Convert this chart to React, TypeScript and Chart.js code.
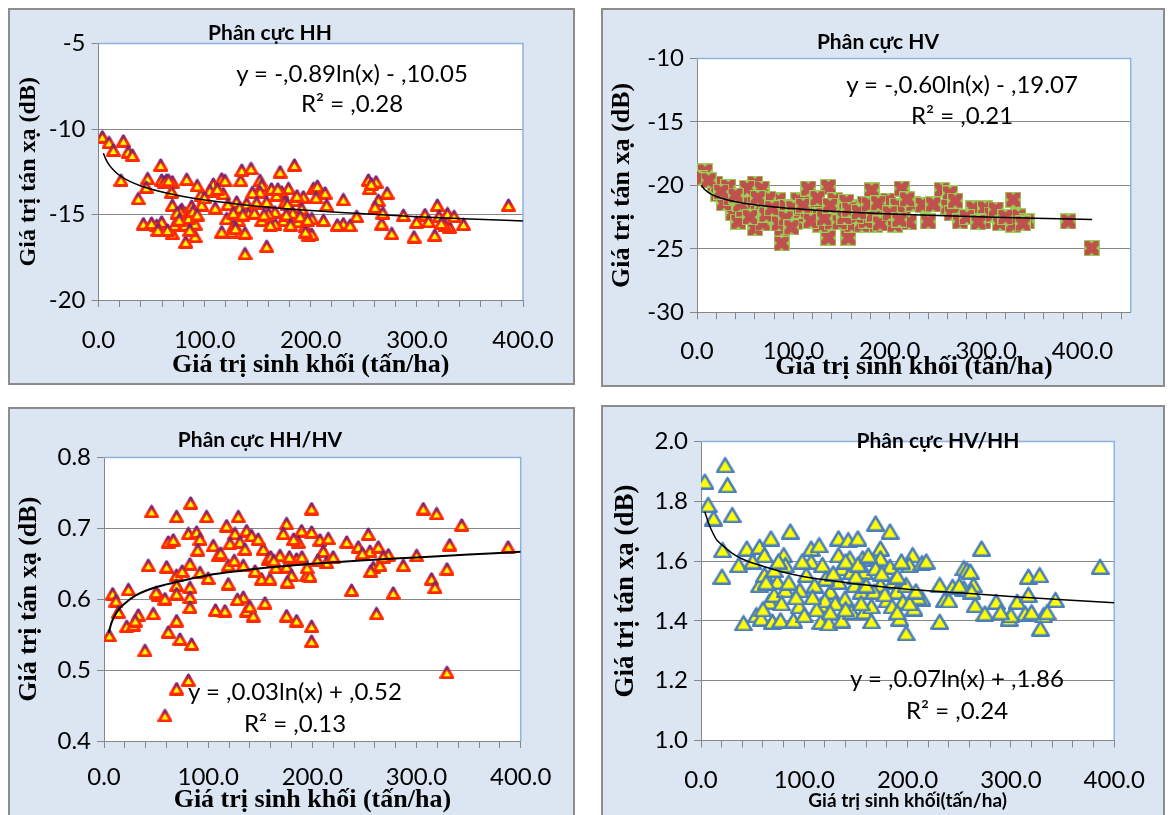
import React, { useEffect, useRef } from 'react';
import { Chart, registerables } from 'chart.js';

Chart.register(...registerables);

// ---------- DATA (biomass tấn/ha , backscatter) ----------
const hhPoints: [number, number][] = [
  [3.6, -10.45], [9.9, -10.78], [23.4, -10.69], [14, -11.23], [28, -11.33], [31.9, -11.52], [58.6, -12.1], [46.3, -12.89],
  [21.2, -12.98], [37.5, -14.06], [59.5, -12.98], [64.2, -12.98], [69.6, -13.08], [83.1, -12.93], [68.9, -13.67], [69.6, -14.45],
  [42.3, -15.53], [59.5, -15.43], [54.8, -15.63], [69.6, -16.1], [82.2, -16.6], [91, -16.27], [72, -15.6], [81.5, -15.6],
  [91, -15.53], [81.5, -14.9], [78.4, -14.69], [87.8, -14.5], [97.2, -14.43], [96.6, -13.84], [108.2, -13.22], [105, -13.6],
  [116.1, -12.91], [119.2, -13.0], [117.6, -13.77], [134, -13.0], [135, -12.4], [143.7, -12.3], [130.2, -14.26], [139.6, -14.35],
  [120.8, -15.23], [131.8, -15.33], [141.3, -14.94], [125.5, -16.0], [116.1, -16.0], [138.1, -16.07], [138.1, -17.28], [158.5, -16.85],
  [152.2, -13.0], [153.8, -13.28], [152.2, -13.67], [158.5, -14.26], [171.1, -12.5], [184.6, -12.1], [179, -13.47], [172.6, -13.67],
  [167.9, -13.86], [175.8, -14.26], [193, -13.96], [185, -14.16], [166.3, -14.84], [174.2, -15.33], [166.3, -15.53], [185, -15.14],
  [191.5, -14.65], [197.8, -16.2], [194.6, -15.7], [202.5, -13.47], [153.8, -15.33], [160, -14.94],
  [206.3, -13.34], [213.5, -13.73], [215, -14.45], [201, -15.23], [212, -15.33], [201, -16.15], [230.7, -14.12], [243.3, -15.1],
  [230.7, -15.53], [237, -15.63], [254.3, -12.98], [261.5, -13.08], [255.2, -13.47], [272, -13.73], [263.7, -14.16], [260.6, -14.55],
  [266.9, -15.53], [276.3, -16.1], [287.3, -15.04], [299.8, -15.43], [297.3, -16.3], [307.6, -15.0], [319.3, -14.45], [320.8, -15.1],
  [316.9, -16.2], [328.8, -14.94], [330.7, -15.73], [326.6, -15.63], [343.9, -15.57], [386.3, -14.45],
  [77, -14.8], [85, -15.2], [112, -13.5], [128, -15.6], [133, -14.6], [147, -14.9], [162, -15.6], [178, -14.4], [188, -15.4], [195, -16.0], [183, -14.9],
  [62, -13.1], [66, -13.0], [74, -14.9], [76, -15.3], [86, -15.9], [89, -14.8], [93, -15.0], [100, -14.0], [110, -14.6], [122, -14.4],
  [127, -14.9], [129, -15.8], [136, -15.0], [145, -13.7], [149, -14.3], [156, -15.0], [163, -13.5], [169, -13.5], [177, -15.0], [181, -15.6],
  [187, -13.9], [190, -15.1], [197, -15.3], [205, -14.0], [225, -15.6], [257, -13.2], [268, -14.9], [311, -15.4], [323, -15.5], [335, -15.1],
  [50, -15.5], [56, -15.9], [65, -15.9], [93, -13.3], [45, -13.4],
];
const hhTrend: [number, number][] = [
  [4.6, -11.41], [7, -11.78], [10, -12.1], [15, -12.46], [20, -12.72], [30, -13.08], [40, -13.33], [60, -13.69], [80, -13.95],
  [100, -14.15], [130, -14.38], [160, -14.57], [200, -14.77], [250, -14.96], [300, -15.13], [350, -15.26], [400, -15.38],
];

const hvPoints: [number, number][] = [
  [8.3, -18.9], [3.1, -19.44], [18.7, -19.86], [32.5, -20.12], [22.1, -20.65], [37.7, -22.18], [60.2, -19.86], [67, -20.25],
  [53.3, -20.9], [58.4, -21.45], [67.1, -21.7], [60.2, -23.37], [77.5, -22.97], [81, -22.58], [87.8, -24.55], [84.4, -21.17],
  [91.3, -21.7], [105, -21.17], [115.5, -20.25], [136.3, -20.12], [119, -21.45], [129.3, -21.96], [122.4, -22.35], [136.3, -24.13],
  [143.2, -21.17], [157, -24.13], [160.5, -23.1], [164, -21.7], [174.3, -21.45], [181.2, -20.4], [184.7, -23.1], [191.6, -21.96],
  [198.5, -21.2], [212.3, -20.25], [214, -22.36], [224.5, -21.45], [150, -21.96], [101.7, -22.86], [74, -21.06], [42.9, -22.86],
  [112, -22.3], [170.9, -23.1], [205.4, -23.1],
  [234.2, -21.53], [240, -22.84], [253.9, -20.37], [262.5, -20.63], [260.8, -21.68], [264.3, -22.2], [272.9, -22.84], [286.8, -21.82],
  [298.9, -21.82], [297.1, -22.84], [305.7, -22.3], [314.4, -22.97], [328.2, -21.13], [328.2, -23.1], [333.4, -22.45], [342, -22.84],
  [385.2, -22.84], [409.4, -24.94],
  [28, -21.4], [48, -21.9], [95, -22.9], [128, -23.1], [145, -22.6], [175, -22.8], [195, -22.6], [208, -21.6], [52, -20.2],
  [68, -23.0], [88, -23.4], [107, -22.0], [155, -21.3], [183, -22.3], [220, -22.9], [100, -21.8], [140, -22.9], [165, -22.4],
  [35, -21.0], [45, -21.5], [55, -22.5], [63, -21.0], [72, -22.3], [78, -21.8], [85, -23.0], [92, -22.6], [98, -23.3], [110, -21.6],
  [118, -22.8], [125, -21.0], [132, -22.6], [138, -21.6], [148, -22.9], [153, -22.5], [158, -21.9], [168, -22.1], [178, -21.5], [188, -21.4],
  [190, -23.0], [200, -22.2], [210, -22.7], [218, -21.1], [245, -21.5], [268, -21.2], [280, -22.5], [292, -22.9], [310, -21.9], [320, -22.5],
  [338, -23.0], [12, -19.6], [25, -20.5], [40, -20.8],
];
const hvTrend: [number, number][] = [
  [4.6, -19.99], [7, -20.24], [10, -20.45], [15, -20.7], [20, -20.87], [30, -21.11], [40, -21.28], [60, -21.53], [80, -21.7],
  [100, -21.83], [130, -21.99], [160, -22.12], [200, -22.25], [250, -22.38], [300, -22.49], [350, -22.58], [410, -22.68],
];

const hhHvPoints: [number, number][] = [
  [5.1, 0.549], [8.3, 0.608], [11.5, 0.598], [13.8, 0.582], [23.4, 0.614], [21.8, 0.562], [28.1, 0.564], [32.9, 0.578],
  [39.3, 0.528], [42.5, 0.648], [47.3, 0.58], [45.7, 0.724], [60.1, 0.646], [52.1, 0.606], [58.5, 0.601], [61.7, 0.554],
  [69.7, 0.57], [72.9, 0.544], [84.1, 0.537], [69.7, 0.717], [83.2, 0.736], [61.7, 0.681], [66.5, 0.684], [69.7, 0.634],
  [69.7, 0.62], [69.7, 0.608], [82.5, 0.65], [82.5, 0.617], [82.5, 0.603], [82.5, 0.589], [81, 0.693], [88.9, 0.695],
  [92.1, 0.685], [98.5, 0.717], [92.1, 0.638], [104.9, 0.676], [109.7, 0.662], [119.3, 0.622], [116.1, 0.584], [117.7, 0.704],
  [128.9, 0.717], [125.7, 0.693], [136.9, 0.697], [120.9, 0.679], [130.5, 0.681], [135.3, 0.671], [119.3, 0.648], [133.7, 0.648],
  [141.7, 0.69], [133.7, 0.603], [136.9, 0.584], [143.3, 0.577], [154.5, 0.595], [152.9, 0.671], [157.7, 0.657], [151.3, 0.629],
  [159.3, 0.629], [168.9, 0.662], [175.3, 0.707], [172.1, 0.693], [175.3, 0.646], [180.1, 0.634], [184.9, 0.657], [189.7, 0.697],
  [186.5, 0.681], [194.5, 0.634], [175.3, 0.577], [184.9, 0.57], [199.3, 0.695], [199.3, 0.728], [199.3, 0.562], [199.3, 0.541],
  [81, 0.486], [69.7, 0.474], [58.5, 0.436],
  [207.3, 0.684], [215.3, 0.686], [210.5, 0.668], [213.7, 0.652], [197.7, 0.633], [233, 0.681], [244.1, 0.674], [253.7, 0.692],
  [255.3, 0.668], [263.3, 0.674], [272.9, 0.663], [258.5, 0.645], [264.9, 0.648], [287.3, 0.648], [300.1, 0.662], [306.5, 0.728],
  [319.3, 0.721], [343.4, 0.705], [331.8, 0.677], [329.2, 0.643], [314.4, 0.629], [317.7, 0.617], [237.7, 0.613], [277.6, 0.609],
  [261.6, 0.58], [329.2, 0.497], [387.9, 0.674],
  [30, 0.57], [50, 0.61], [75, 0.64], [90, 0.67], [100, 0.63], [112, 0.665], [125, 0.655], [145, 0.64], [148, 0.685], [160, 0.66],
  [165, 0.645], [178, 0.66], [182, 0.685], [190, 0.66], [195, 0.645], [205, 0.655], [220, 0.66], [248, 0.665], [268, 0.66], [256, 0.64],
  [107, 0.585], [128, 0.6], [140, 0.59], [163, 0.655], [176, 0.625],
];
const hhHvTrend: [number, number][] = [
  [4.6, 0.553], [7, 0.566], [10, 0.576], [15, 0.587], [20, 0.594], [30, 0.605], [40, 0.612], [60, 0.621], [80, 0.628],
  [100, 0.634], [130, 0.64], [160, 0.645], [200, 0.65], [250, 0.655], [300, 0.659], [350, 0.663], [400, 0.667],
];

const hvHhPoints: [number, number][] = [
  [3.7, 1.867], [23.4, 1.922], [25.6, 1.855], [6.9, 1.789], [12.2, 1.744], [30.2, 1.755], [20.9, 1.638], [20.3, 1.549],
  [41.2, 1.393], [44.3, 1.643], [36.5, 1.588], [56.7, 1.649], [67.7, 1.677], [86.4, 1.7], [61.4, 1.621], [53.6, 1.42],
  [58.3, 1.409], [69.2, 1.398], [77, 1.403], [89.5, 1.403], [66.1, 1.465], [70.8, 1.488], [56.7, 1.521], [61.4, 1.555],
  [73.9, 1.532], [81.7, 1.504], [95.7, 1.504], [80.1, 1.621], [81.7, 1.588], [70.8, 1.572], [106.6, 1.643], [114.4, 1.654],
  [106.6, 1.599], [117.5, 1.588], [116, 1.398], [123.8, 1.393], [136.3, 1.403], [116, 1.454], [125.3, 1.499], [133.1, 1.532],
  [133.1, 1.677], [142.5, 1.671], [151.8, 1.677], [133.1, 1.621], [144, 1.61], [156.5, 1.61], [158.1, 1.565], [139.4, 1.476],
  [148.7, 1.521], [155, 1.499], [145.6, 1.432], [158.1, 1.432], [169, 1.727], [183, 1.7], [173.7, 1.643], [173.7, 1.61],
  [169, 1.577], [183, 1.582], [173.7, 1.521], [167.4, 1.499], [186.1, 1.532], [189.3, 1.499], [195.5, 1.465], [192.4, 1.409],
  [198.6, 1.36], [204.9, 1.621], [201.7, 1.588], [198.6, 1.521], [136.3, 1.577], [145.6, 1.565], [102, 1.555], [120.7, 1.543],
  [213.9, 1.594], [271.6, 1.643], [254.4, 1.577], [257.6, 1.571], [260.7, 1.566], [263.8, 1.521], [254.4, 1.51], [231.1, 1.521],
  [243.6, 1.515], [235.7, 1.471], [231.1, 1.398], [213.9, 1.476], [206.1, 1.443], [265.4, 1.454], [274.8, 1.426], [285.7, 1.465],
  [298.2, 1.409], [306, 1.465], [313.8, 1.426], [316.9, 1.549], [327.8, 1.554], [316.9, 1.488], [331.6, 1.42], [328.5, 1.376],
  [343.1, 1.471], [386.3, 1.582],
  [300, 1.42], [165, 1.45], [180, 1.47], [120, 1.47], [150, 1.55], [95, 1.45], [210, 1.48],
  [50, 1.6], [63, 1.53], [75, 1.6], [85, 1.53], [92, 1.48], [98, 1.6], [110, 1.52], [112, 1.44], [128, 1.56], [130, 1.46],
  [140, 1.6], [152, 1.59], [160, 1.52], [162, 1.62], [175, 1.56], [178, 1.49], [185, 1.45], [190, 1.55], [194, 1.6], [202, 1.46],
  [208, 1.5], [218, 1.6], [240, 1.47], [250, 1.52], [262, 1.5], [290, 1.43], [320, 1.43], [335, 1.43], [60, 1.44], [78, 1.46],
  [100, 1.42], [108, 1.48], [125, 1.43], [140, 1.44], [155, 1.46], [165, 1.4], [190, 1.43],
];
const hvHhTrend: [number, number][] = [
  [3.7, 1.765], [7, 1.73], [10, 1.705], [15, 1.672], [20, 1.655], [30, 1.627], [40, 1.607], [60, 1.583], [80, 1.563],
  [100, 1.548], [130, 1.533], [160, 1.52], [200, 1.506], [250, 1.494], [300, 1.482], [350, 1.471], [400, 1.461],
];

const chartTitles = ['Phân cực HH', 'Phân cực HV', 'Phân cực HH/HV', 'Phân cực HV/HH'];
const equationLines = [
  ['y = -,0.89ln(x) - ,10.05', 'R² = ,0.28'],
  ['y = -,0.60ln(x) - ,19.07', 'R² = ,0.21'],
  ['y = ,0.03ln(x) + ,0.52', 'R² = ,0.13'],
  ['y = ,0.07ln(x) + ,1.86', 'R² = ,0.24'],
];
const yAxisTitle = 'Giá trị tán xạ (dB)';
const xAxisTitle = 'Giá trị sinh khối (tấn/ha)';
const xAxisTitleCompact = 'Giá trị sinh khối(tấn/ha)';
const xLabelEvery = 100;
const xMinorStep = 20;

// ---------- LAYOUT / STYLE ----------
type Panel = {
  box: number[]; area: number[]; xMax: number; yMin: number; yMax: number; yStep: number; yDigits: number;
  points: [number, number][]; trend: [number, number][]; marker: string; trendWidth: number;
  title: string; titlePos: number[]; eq: string[]; eqPos: number[];
  xTitle: string; xTitleFont: any; xTitleY: number; yTitleSize: number; yTitleX: number; xLabelY: number;
};

const SERIF = "'Liberation Serif', 'Times New Roman', serif";
const SANS = "Lato, 'Liberation Sans', sans-serif";

const panels: Panel[] = [
  {
    box: [8, 8, 567, 377], area: [98.5, 43.5, 523, 300], xMax: 400, yMin: -20, yMax: -5, yStep: 5, yDigits: 0,
    points: hhPoints, trend: hhTrend, marker: 'red', trendWidth: 1.5,
    title: chartTitles[0], titlePos: [268, 29], eq: equationLines[0], eqPos: [350, 71, 101],
    xTitle: xAxisTitle, xTitleFont: { family: SERIF, weight: 'bold', size: 26 }, xTitleY: 365, yTitleSize: 24, yTitleX: 29, xLabelY: 340,
  },
  {
    box: [601, 8, 564, 379], area: [697, 58.5, 1130.7, 312.3], xMax: 450, yMin: -30, yMax: -10, yStep: 5, yDigits: 0,
    points: hvPoints, trend: hvTrend, marker: 'cross', trendWidth: 1.5,
    title: chartTitles[1], titlePos: [876, 38], eq: equationLines[1], eqPos: [960, 82, 113],
    xTitle: xAxisTitle, xTitleFont: { family: SERIF, weight: 'bold', size: 26 }, xTitleY: 367, yTitleSize: 26, yTitleX: 622, xLabelY: 351,
  },
  {
    box: [8, 407, 567, 412], area: [104, 457.5, 520.7, 741], xMax: 400, yMin: 0.4, yMax: 0.8, yStep: 0.1, yDigits: 1,
    points: hhHvPoints, trend: hhHvTrend, marker: 'red', trendWidth: 2,
    title: chartTitles[2], titlePos: [258, 436], eq: equationLines[2], eqPos: [293, 689, 721],
    xTitle: xAxisTitle, xTitleFont: { family: SERIF, weight: 'bold', size: 26 }, xTitleY: 800, yTitleSize: 26, yTitleX: 29, xLabelY: 777,
  },
  {
    box: [601, 405, 564, 414], area: [701, 441.5, 1128.7, 740.5], xMax: 400, yMin: 1.0, yMax: 2.0, yStep: 0.2, yDigits: 1,
    points: hvHhPoints, trend: hvHhTrend, marker: 'blue', trendWidth: 1.5,
    title: chartTitles[3], titlePos: [936, 437], eq: equationLines[3], eqPos: [955, 676, 708],
    xTitle: xAxisTitleCompact, xTitleFont: { family: SANS, weight: 'bold', size: 19 }, xTitleY: 801, yTitleSize: 27, yTitleX: 626, xLabelY: 780,
  },
];

const TICK_FONT = { family: SANS, size: 24 };
const AXIS_GRAY = '#878787';

function triangleMarker(w: number, h: number, lw: number, fill: string, topCol: string, botCol: string) {
  const c = document.createElement('canvas');
  c.width = w; c.height = h;
  const g = c.getContext('2d')!;
  const m = lw / 2;
  g.beginPath();
  g.moveTo(w / 2, m + 0.5);
  g.lineTo(w - m, h - m);
  g.lineTo(m, h - m);
  g.closePath();
  g.fillStyle = fill;
  g.fill();
  const grad = g.createLinearGradient(0, 0, 0, h);
  grad.addColorStop(0, topCol);
  grad.addColorStop(0.6, botCol);
  grad.addColorStop(1, botCol);
  g.strokeStyle = grad;
  g.lineWidth = lw;
  g.lineJoin = 'round';
  g.stroke();
  return c;
}

function crossMarker() {
  const s = 16;
  const c = document.createElement('canvas');
  c.width = s; c.height = s;
  const g = c.getContext('2d')!;
  g.fillStyle = '#98D155';
  g.fillRect(0, 0, s, s);
  g.save();
  g.beginPath();
  g.rect(1, 1, s - 2, s - 2);
  g.clip();
  g.strokeStyle = '#C0504D';
  g.lineWidth = 6.5;
  g.lineCap = 'square';
  g.beginPath();
  g.moveTo(3, 3); g.lineTo(s - 3, s - 3);
  g.moveTo(s - 3, 3); g.lineTo(3, s - 3);
  g.stroke();
  g.restore();
  return c;
}

function makeMarker(kind: string) {
  if (kind === 'cross') return crossMarker();
  if (kind === 'blue') return triangleMarker(19, 17, 2.6, '#FFFF00', '#4A7EBB', '#4A7EBB');
  return triangleMarker(15, 14, 3, '#FFFF00', '#4B1E9E', '#FF2A00');
}

const plotFrame = {
  id: 'plotFrame',
  beforeDraw(chart: any) {
    const { ctx, chartArea: a } = chart;
    ctx.save();
    ctx.fillStyle = '#FFFFFF';
    ctx.fillRect(a.left, a.top, a.right - a.left, a.bottom - a.top);
    ctx.restore();
  },
  beforeDatasetsDraw(chart: any) {
    const { ctx, chartArea: a } = chart;
    ctx.save();
    ctx.strokeStyle = '#8DB3E2';
    ctx.lineWidth = 1.5;
    ctx.beginPath();
    ctx.moveTo(a.left, a.top);
    ctx.lineTo(a.right, a.top);
    ctx.lineTo(a.right, a.bottom);
    ctx.stroke();
    ctx.restore();
  },
};

function ChartPanel({ cfg }: { cfg: Panel }) {
  const ref = useRef<HTMLCanvasElement>(null);
  const [bl, bt, bw, bh] = cfg.box;
  const ox = bl + 2, oy = bt + 2;
  const cw = bw - 4, ch = bh - 4;

  useEffect(() => {
    const aL = cfg.area[0] - ox, aT = cfg.area[1] - oy, aR = cfg.area[2] - ox, aB = cfg.area[3] - oy;
    const tickLH = TICK_FONT.size * 1.2;
    const xTitleLH = cfg.xTitleFont.size * 1.2;
    const yTitleLH = cfg.yTitleSize * 1.2;
    const tickLen = 7;
    const chart = new Chart(ref.current!, {
      type: 'scatter',
      data: {
        datasets: [
          {
            data: cfg.trend.map(([x, y]) => ({ x, y })),
            showLine: true, pointRadius: 0, borderColor: '#000000', borderWidth: cfg.trendWidth,
            cubicInterpolationMode: 'monotone', fill: false, order: 0,
          } as any,
          {
            data: cfg.points.map(([x, y]) => ({ x, y })),
            pointStyle: makeMarker(cfg.marker), pointRadius: 7, showLine: false, order: 1,
          } as any,
        ],
      },
      options: {
        responsive: false,
        animation: false,
        events: [],
        plugins: { legend: { display: false }, tooltip: { enabled: false } },
        layout: { padding: { left: 0, top: aT, right: cw - aR, bottom: 0 } },
        scales: {
          x: {
            type: 'linear', position: 'bottom', min: 0, max: cfg.xMax,
            afterFit: (s: any) => { s.height = ch - aB; },
            ticks: {
              stepSize: xMinorStep, autoSkip: false, maxRotation: 0, minRotation: 0, includeBounds: false,
              padding: cfg.xLabelY - cfg.area[3] - tickLen - tickLH / 2,
              font: TICK_FONT, color: '#000000',
              callback: (v: any) => (Math.abs(Number(v) % xLabelEvery) < 1e-6 ? Number(v).toFixed(1) : ''),
            },
            grid: { drawOnChartArea: false, drawTicks: true, tickLength: tickLen, color: AXIS_GRAY, tickColor: AXIS_GRAY },
            border: { display: true, color: AXIS_GRAY, width: 1 },
            title: {
              display: true, text: cfg.xTitle, font: cfg.xTitleFont, color: '#000000',
              padding: { top: 0, bottom: Math.max(0, ch - (cfg.xTitleY - oy) - xTitleLH / 2) },
            },
          },
          y: {
            type: 'linear', min: cfg.yMin, max: cfg.yMax,
            afterFit: (s: any) => { s.width = aL; },
            ticks: {
              stepSize: cfg.yStep, padding: 6, font: TICK_FONT, color: '#000000',
              callback: (v: any) => Number(v).toFixed(cfg.yDigits),
            },
            grid: { drawOnChartArea: true, drawTicks: true, tickLength: tickLen, color: AXIS_GRAY, tickColor: AXIS_GRAY },
            border: { display: true, color: AXIS_GRAY, width: 1 },
            title: {
              display: true, text: yAxisTitle, color: '#000000',
              font: { family: SERIF, weight: 'bold', size: cfg.yTitleSize },
              padding: { top: Math.max(0, cfg.yTitleX - ox - yTitleLH / 2), bottom: 0 },
            },
          },
        },
      } as any,
      plugins: [plotFrame],
    });
    return () => chart.destroy();
  }, [cfg]);

  const textStyle = (x: number, y: number, font: string): React.CSSProperties => ({
    position: 'absolute', left: x - bl, top: y - bt, transform: 'translate(-50%, -50%)',
    whiteSpace: 'nowrap', font, color: '#000', lineHeight: 1, pointerEvents: 'none',
  });

  return (
    <div
      style={{
        position: 'absolute', left: bl, top: bt, width: bw, height: bh, boxSizing: 'border-box',
        border: '2px solid #8C8C8C', background: '#DCE6F2',
      }}
    >
      <canvas ref={ref} width={cw} height={ch} style={{ position: 'absolute', left: 0, top: 0, width: cw, height: ch }} />
      <div style={textStyle(cfg.titlePos[0], cfg.titlePos[1], `bold 21px ${SANS}`)}>{cfg.title}</div>
      <div style={textStyle(cfg.eqPos[0], cfg.eqPos[1], `24px ${SANS}`)}>{cfg.eq[0]}</div>
      <div style={textStyle(cfg.eqPos[0], cfg.eqPos[2], `24px ${SANS}`)}>{cfg.eq[1]}</div>
    </div>
  );
}

export default function App() {
  return (
    <div style={{ position: 'fixed', left: 0, top: 0, width: 1172, height: 815, overflow: 'hidden', background: '#FFFFFF' }}>
      {panels.map((p, i) => (
        <ChartPanel key={i} cfg={p} />
      ))}
    </div>
  );
}
